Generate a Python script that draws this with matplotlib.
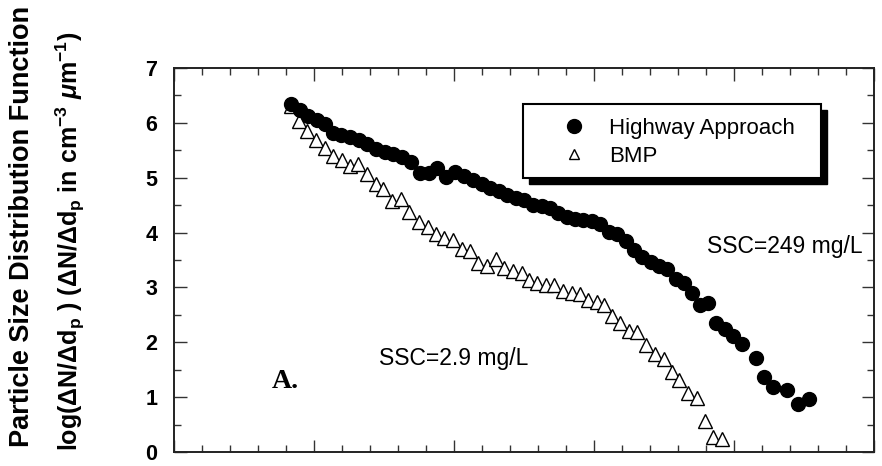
import matplotlib
matplotlib.use("Agg")
import matplotlib.pyplot as plt
from matplotlib.patches import Rectangle
from matplotlib.ticker import MultipleLocator, NullFormatter

plt.rcParams['font.family'] = ['Liberation Sans', 'DejaVu Sans']
plt.rcParams['mathtext.fontset'] = 'custom'
plt.rcParams['mathtext.rm'] = 'Liberation Sans:bold'
plt.rcParams['mathtext.it'] = 'Liberation Sans:bold:italic'
plt.rcParams['mathtext.bf'] = 'Liberation Sans:bold'
plt.rcParams['mathtext.default'] = 'regular'

# --- data (x axis is unlabelled in the original) ---
highway_x = [0.418, 0.450, 0.480, 0.511, 0.539, 0.568, 0.598, 0.629, 0.659, 0.689,
             0.721, 0.752, 0.782, 0.813, 0.848, 0.880, 0.910, 0.939, 0.970, 1.005,
             1.036, 1.066, 1.099, 1.129, 1.160, 1.189, 1.220, 1.250, 1.283, 1.313,
             1.343, 1.371, 1.402, 1.432, 1.461, 1.493, 1.521, 1.552, 1.582, 1.613,
             1.643, 1.671, 1.702, 1.732, 1.761, 1.791, 1.821, 1.850, 1.879, 1.908,
             1.936, 1.966, 1.998, 2.029, 2.079, 2.107, 2.138, 2.188, 2.229, 2.268]
highway_y = [6.35, 6.24, 6.13, 6.06, 5.98, 5.81, 5.78, 5.74, 5.68, 5.61,
             5.52, 5.47, 5.43, 5.37, 5.29, 5.08, 5.09, 5.17, 5.01, 5.11,
             5.03, 4.96, 4.89, 4.81, 4.76, 4.69, 4.63, 4.60, 4.51, 4.49,
             4.44, 4.35, 4.29, 4.25, 4.23, 4.21, 4.15, 4.02, 3.97, 3.85,
             3.68, 3.55, 3.47, 3.40, 3.33, 3.15, 3.08, 2.90, 2.68, 2.72,
             2.36, 2.24, 2.12, 1.97, 1.72, 1.36, 1.18, 1.13, 0.87, 0.96]

bmp_x = [0.418, 0.446, 0.475, 0.507, 0.538, 0.568, 0.599, 0.629, 0.658, 0.688,
         0.720, 0.748, 0.780, 0.810, 0.840, 0.875, 0.906, 0.936, 0.965, 0.998,
         1.028, 1.058, 1.087, 1.119, 1.150, 1.180, 1.210, 1.242, 1.269, 1.298,
         1.328, 1.357, 1.388, 1.420, 1.450, 1.480, 1.510, 1.536, 1.563, 1.593,
         1.625, 1.655, 1.686, 1.717, 1.749, 1.780, 1.805, 1.835, 1.867, 1.896,
         1.924, 1.956]
bmp_y = [6.30, 6.04, 5.85, 5.69, 5.55, 5.39, 5.33, 5.22, 5.25, 5.06,
         4.88, 4.79, 4.58, 4.62, 4.37, 4.19, 4.11, 3.97, 3.90, 3.87,
         3.70, 3.66, 3.45, 3.40, 3.51, 3.36, 3.30, 3.27, 3.13, 3.08,
         3.05, 3.05, 2.94, 2.90, 2.88, 2.78, 2.74, 2.68, 2.48, 2.36,
         2.21, 2.19, 1.96, 1.79, 1.70, 1.46, 1.32, 1.07, 0.98, 0.56,
         0.28, 0.24]

series_labels = ['Highway Approach', 'BMP']

fig = plt.figure(figsize=(8.82, 4.66), dpi=100)
ax = fig.add_axes([0.1973, 0.030, 0.7937, 0.824])

ax.plot(bmp_x, bmp_y, linestyle='none', marker='^', markersize=9.5,
        markerfacecolor='white', markeredgecolor='black', markeredgewidth=1.0,
        label=series_labels[1], zorder=3)
ax.plot(highway_x, highway_y, linestyle='none', marker='o', markersize=10,
        markerfacecolor='black', markeredgecolor='black',
        label=series_labels[0], zorder=4)

ax.set_xlim(0, 2.5)
ax.set_ylim(0, 7)
ax.xaxis.set_major_locator(MultipleLocator(0.5))
ax.xaxis.set_minor_locator(MultipleLocator(0.1))
ax.yaxis.set_major_locator(MultipleLocator(1))
ax.yaxis.set_minor_locator(MultipleLocator(0.5))
ax.xaxis.set_major_formatter(NullFormatter())
ax.tick_params(which='both', direction='in', top=True, right=True, width=1.0, color='#333333')
ax.tick_params(which='major', length=9)
ax.tick_params(which='minor', length=5)
ax.tick_params(axis='y', which='major', pad=12, labelsize=15.5)
for lbl in ax.get_yticklabels():
    lbl.set_fontweight('bold')
for s in ax.spines.values():
    s.set_linewidth(1.4)
    s.set_color('#222222')

# legend box with hard black shadow
ax.add_patch(Rectangle((0.5072, 0.699), 0.4254, 0.193, transform=ax.transAxes,
                       facecolor='black', edgecolor='black', zorder=5))
ax.add_patch(Rectangle((0.4986, 0.714), 0.4254, 0.193, transform=ax.transAxes,
                       facecolor='white', edgecolor='black', linewidth=1.5, zorder=6))
handles, labels = ax.get_legend_handles_labels()
leg = ax.legend(handles[::-1], labels[::-1], loc='upper left',
                bbox_to_anchor=(0.53, 0.91), frameon=False, fontsize=16,
                handlelength=1.2, handletextpad=1.0, labelspacing=0.3,
                borderpad=0.2, markerscale=1.0)
leg.set_zorder(7)
leg.legend_handles[1].set_markersize(7)

ax.text(2.18, 3.75, 'SSC=249 mg/L', fontsize=16.5, ha='center', va='center')
ax.text(1.0, 1.71, 'SSC=2.9 mg/L', fontsize=16.5, ha='center', va='center')
ax.text(0.35, 1.17, 'A.', fontsize=20, fontweight='bold', family='Liberation Serif',
        ha='left', va='baseline')

fig.text(0.025, 0.515, 'Particle Size Distribution Function', rotation=90,
         ha='center', va='center', fontsize=19.5, fontweight='bold')
fig.text(0.080, 0.483,
         r'log($\Delta$N/$\Delta$d$_p$ ) ($\Delta$N/$\Delta$d$_p$ in cm$^{-3}$ $\mathit{\mu}$m$^{-1}$)',
         rotation=90, ha='center', va='center', fontsize=18, fontweight='bold')

fig.savefig('out.png', dpi=100)
